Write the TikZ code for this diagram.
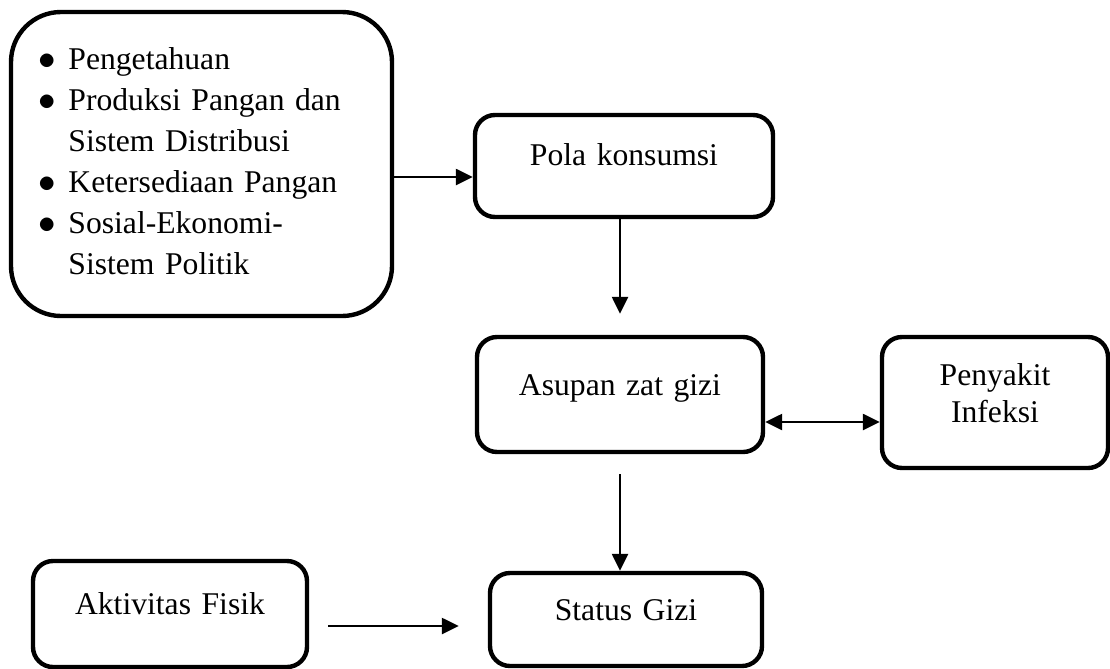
\documentclass[tikz,border=0pt]{standalone}
\usepackage{fontspec}
\setmainfont{Liberation Serif}
\usepackage{graphicx}
\usetikzlibrary{arrows.meta, calc}

\begin{document}
\begin{tikzpicture}[scale=1]
	\useasboundingbox (0,0) rectangle (22.2,-13.36);
	\begin{scope}[every node/.style={draw, rounded corners=0.4cm, line width=2.5pt, inner xsep=0pt, inner ysep=0pt, align=center, font=\fontsize{18}{21.6}\selectfont}, arr/.style={-{Triangle[length=0.34cm, width=0.32cm]}, line width=1.4pt}]
	\node[rounded corners=1cm, minimum height=6.08cm, text width=6.5cm, inner xsep=0.56cm, align=left, font=\fontsize{18}{23.3}\selectfont] (faktor) at (4.03,-3.28) {%
		\begin{tabular}{@{}l@{\hspace{0.24cm}}l@{}}
		\scalebox{1.15}{$\bullet$} & Pengetahuan\\
		\scalebox{1.15}{$\bullet$} & Produksi Pangan dan\\
		 & Sistem Distribusi\\
		\scalebox{1.15}{$\bullet$} & Ketersediaan Pangan\\
		\scalebox{1.15}{$\bullet$} & Sosial-Ekonomi-\\
		 & Sistem Politik
		\end{tabular}};
	\node[text width=5.96cm, text height=1cm, text depth=1.04cm, anchor=base] (pola) at (12.48,-3.30) {Pola konsumsi};
	\node[text width=5.72cm, text height=1.16cm, text depth=1.14cm, anchor=base] (asupan) at (12.40,-7.90) {Asupan zat gizi};
	\node[text width=4.52cm, text height=0.96cm, text depth=1.66cm, anchor=base] (penyakit) at (19.90,-7.70) {Penyakit\\Infeksi};
	\node[text width=5.48cm, text height=1.06cm, text depth=1.06cm, anchor=base] (aktivitas) at (3.40,-12.28) {Aktivitas Fisik};
	\node[text width=5.44cm, text height=0.94cm, text depth=0.92cm, anchor=base] (status) at (12.52,-12.40) {Status Gizi};
	
	\draw[arr] ([yshift=-0.22cm]pola.west -| faktor.east) -- ([yshift=-0.22cm]pola.west);
	\draw[arr, shorten >=0.42cm] (pola.south -| asupan.north) -- (asupan.north);
	\draw[arr, {Triangle[length=0.34cm, width=0.32cm]}-{Triangle[length=0.34cm, width=0.32cm]}] ([yshift=-0.39cm]penyakit.west -| asupan.east) -- ([yshift=-0.39cm]penyakit.west);
	\draw[arr, shorten <=0.4cm] (asupan.south) -- (asupan.south |- status.north);
	\draw[arr, shorten <=0.38cm, shorten >=0.58cm] ([yshift=-0.24cm]aktivitas.east) -- ([yshift=-0.24cm]aktivitas.east -| status.west);
	\end{scope}
\end{tikzpicture}
\end{document}
